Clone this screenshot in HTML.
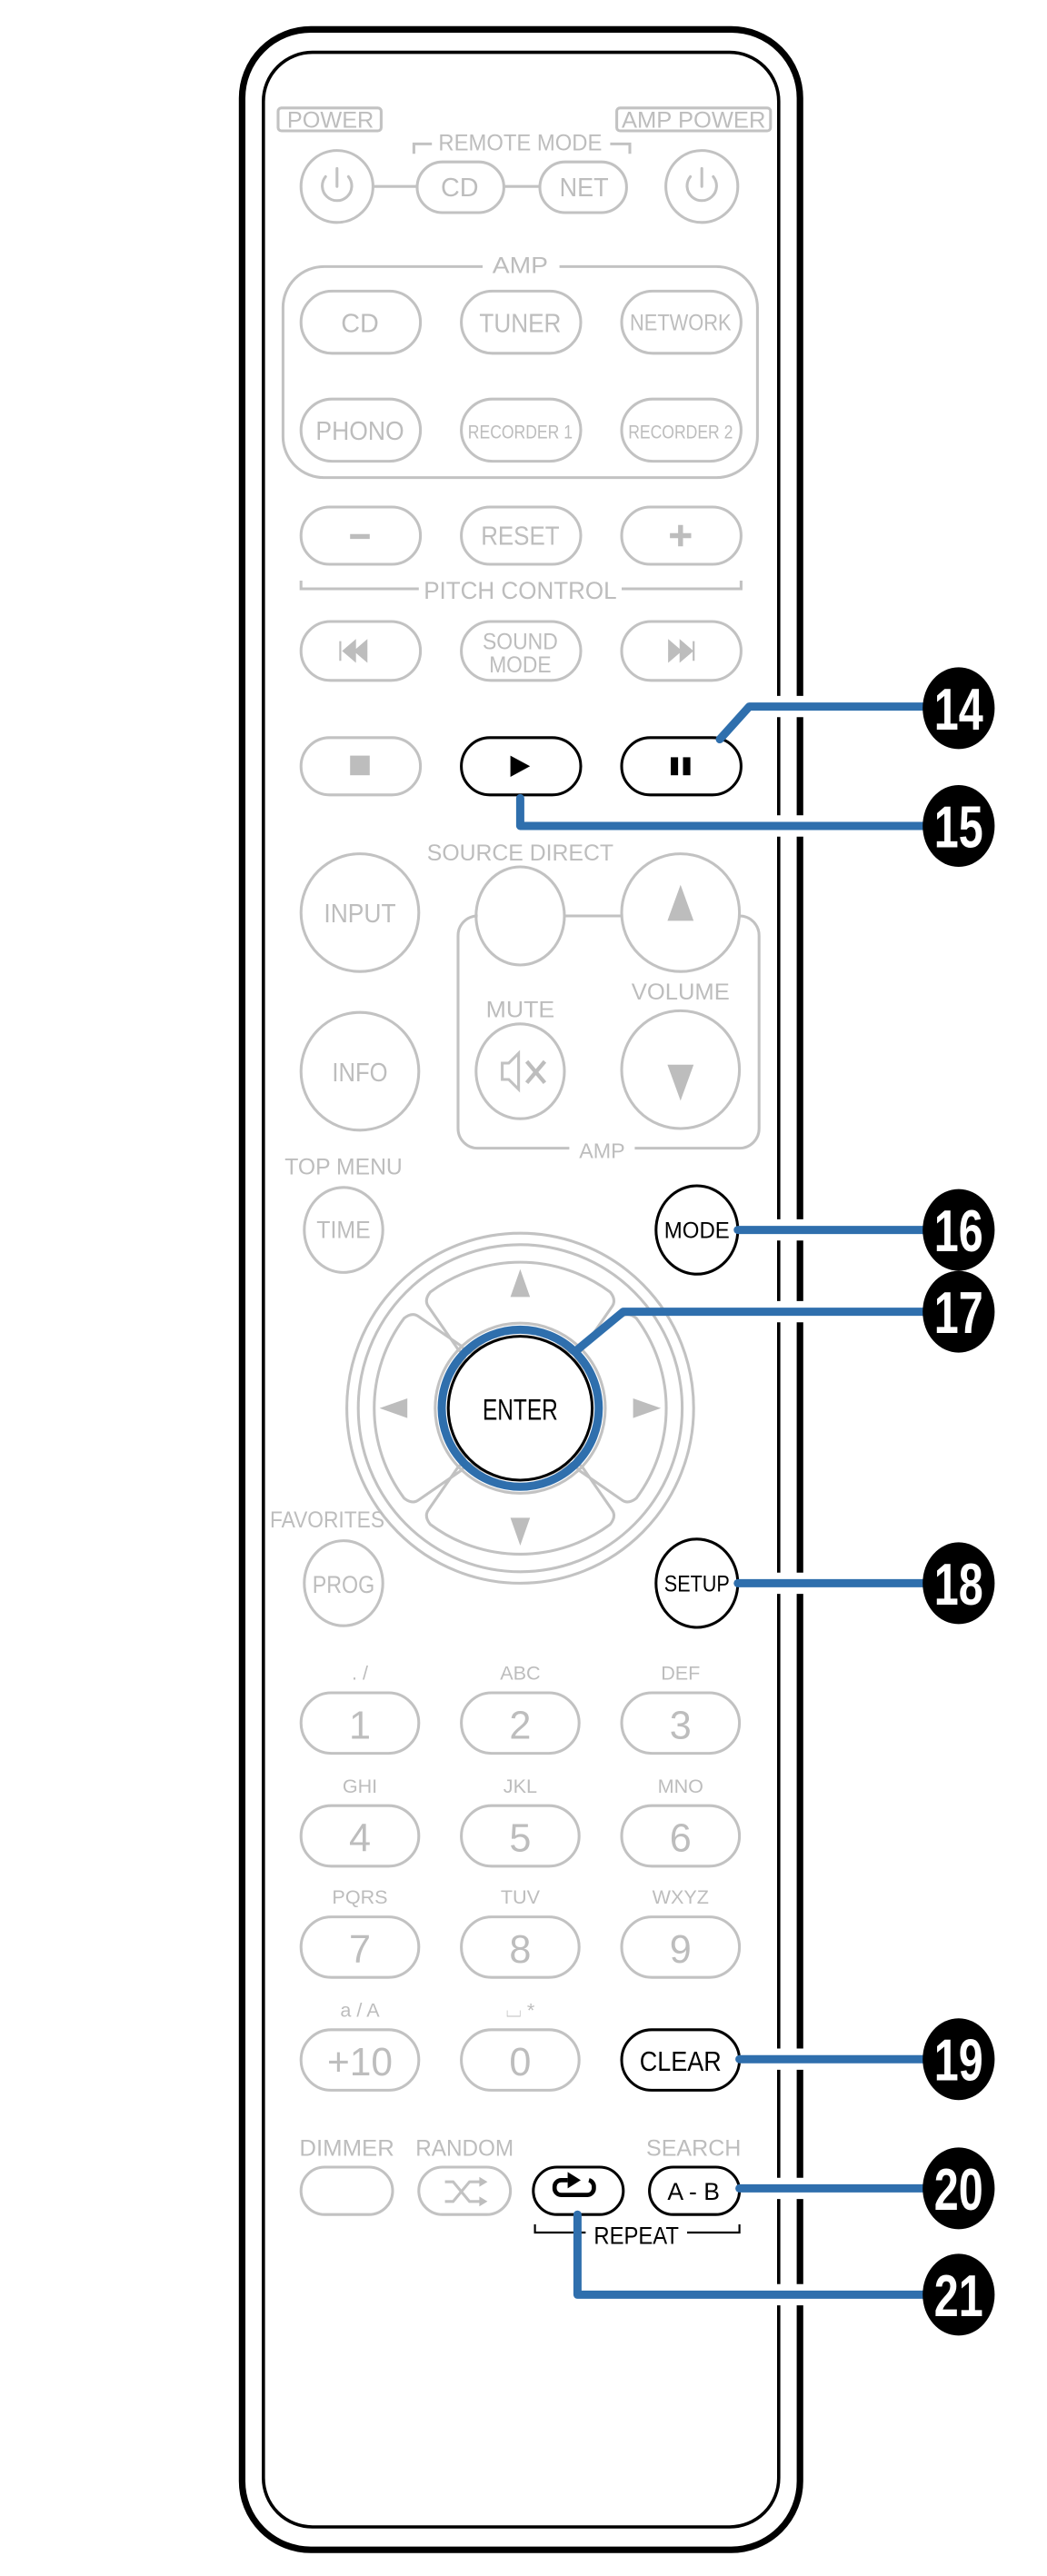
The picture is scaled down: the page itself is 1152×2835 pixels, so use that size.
<!DOCTYPE html>
<html><head><meta charset="utf-8"><style>
html,body{margin:0;padding:0;background:#fff}
svg{display:block}
.g{fill:none;stroke:#c2c2c2;stroke-width:1.7}
.k{fill:#fff;stroke:#000;stroke-width:1.7}
.t{fill:#bdbdbd;font-family:"Liberation Sans",sans-serif;text-anchor:middle}
.tb{fill:#000;font-family:"Liberation Sans",sans-serif;text-anchor:middle}
.n{fill:#fff;font-family:"Liberation Sans",sans-serif;text-anchor:middle;font-weight:bold;font-size:36px}
.bl{fill:none;stroke:#2f6fad;stroke-width:5;stroke-linejoin:round;stroke-linecap:round}
.wh{fill:none;stroke:#fff;stroke-width:13}
</style></head><body>
<svg width="1152" height="2835" viewBox="0 0 640 1575" xmlns="http://www.w3.org/2000/svg">
<rect x="148" y="18" width="341" height="1541" rx="42" fill="#fff" stroke="#000" stroke-width="4"/>
<rect x="161" y="32" width="315" height="1513" rx="30" fill="none" stroke="#000" stroke-width="2"/>

<rect x="170" y="66" width="63" height="14" rx="2" class="g"/>
<text x="202" y="78" class="t" font-size="14" textLength="53" lengthAdjust="spacingAndGlyphs">POWER</text>
<rect x="377" y="66" width="94" height="14" rx="2" class="g"/>
<text x="424" y="78" class="t" font-size="14" textLength="88" lengthAdjust="spacingAndGlyphs">AMP POWER</text>
<path d="M253,94 V88 H264 M373,88 H385 V94" class="g"/>
<text x="318" y="92" class="t" font-size="14" textLength="100" lengthAdjust="spacingAndGlyphs">REMOTE MODE</text>
<circle cx="206" cy="114" r="22" class="g"/>
<circle cx="429" cy="114" r="22" class="g"/>
<g class="g" stroke-width="3" stroke-linecap="round">
<path d="M199,108 A9,9 0 1 0 213,108 M206,103 V114"/>
<path d="M422,108 A9,9 0 1 0 436,108 M429,103 V114"/>
</g>
<line x1="228" y1="114" x2="255" y2="114" class="g"/>
<line x1="308" y1="114" x2="330" y2="114" class="g"/>
<rect x="255" y="99" width="53" height="31" rx="15.5" class="g"/>
<rect x="330" y="99" width="53" height="31" rx="15.5" class="g"/>
<text x="281" y="120" class="t" font-size="16">CD</text>
<text x="357" y="120" class="t" font-size="16" textLength="30" lengthAdjust="spacingAndGlyphs">NET</text>

<path d="M295,163 H198 A25,25 0 0 0 173,188 V267 A25,25 0 0 0 198,292 H438 A25,25 0 0 0 463,267 V188 A25,25 0 0 0 438,163 H342" class="g"/>
<text x="318" y="167" class="t" font-size="14" textLength="34" lengthAdjust="spacingAndGlyphs">AMP</text>
<rect x="184" y="178" width="73" height="38" rx="19" class="g"/>
<rect x="282" y="178" width="73" height="38" rx="19" class="g"/>
<rect x="380" y="178" width="73" height="38" rx="19" class="g"/>
<text x="220" y="203" class="t" font-size="16">CD</text>
<text x="318" y="203" class="t" font-size="16" textLength="50" lengthAdjust="spacingAndGlyphs">TUNER</text>
<text x="416" y="202" class="t" font-size="14" textLength="62" lengthAdjust="spacingAndGlyphs">NETWORK</text>
<rect x="184" y="244" width="73" height="38" rx="19" class="g"/>
<rect x="282" y="244" width="73" height="38" rx="19" class="g"/>
<rect x="380" y="244" width="73" height="38" rx="19" class="g"/>
<text x="220" y="269" class="t" font-size="16" textLength="54" lengthAdjust="spacingAndGlyphs">PHONO</text>
<text x="318" y="268" class="t" font-size="12" textLength="64" lengthAdjust="spacingAndGlyphs">RECORDER 1</text>
<text x="416" y="268" class="t" font-size="12" textLength="64" lengthAdjust="spacingAndGlyphs">RECORDER 2</text>

<rect x="184" y="310" width="73" height="35" rx="17.5" class="g"/>
<rect x="282" y="310" width="73" height="35" rx="17.5" class="g"/>
<rect x="380" y="310" width="73" height="35" rx="17.5" class="g"/>
<line x1="214" y1="328" x2="226" y2="328" stroke="#bdbdbd" stroke-width="3"/>
<text x="318" y="333" class="t" font-size="16" textLength="48" lengthAdjust="spacingAndGlyphs">RESET</text>
<path d="M416,321 V334 M409.5,327.5 H422.5" stroke="#bdbdbd" stroke-width="3"/>
<path d="M184,355 V360 H256 M380,360 H453 V355" class="g"/>
<text x="318" y="366" class="t" font-size="15" textLength="118" lengthAdjust="spacingAndGlyphs">PITCH CONTROL</text>

<rect x="184" y="380" width="73" height="36" rx="18" class="g"/>
<rect x="282" y="380" width="73" height="36" rx="18" class="g"/>
<rect x="380" y="380" width="73" height="36" rx="18" class="g"/>
<path d="M208,398 l0,-6 v12 M210,398 l7,-6 v12z M217,398 l7,-6 v12z" fill="#bdbdbd" stroke="#bdbdbd" stroke-width="1.2"/>
<path d="M409,392 v12 l7,-6z M416,392 v12 l7,-6z M424,392 v12" fill="#bdbdbd" stroke="#bdbdbd" stroke-width="1.2"/>
<text x="318" y="397" class="t" font-size="14" textLength="46" lengthAdjust="spacingAndGlyphs">SOUND</text>
<text x="318" y="411" class="t" font-size="14" textLength="38" lengthAdjust="spacingAndGlyphs">MODE</text>

<rect x="184" y="451" width="73" height="35" rx="17.5" class="g"/>
<rect x="214" y="462" width="12" height="12" fill="#bdbdbd"/>
<rect x="282" y="451" width="73" height="35" rx="17.5" class="k"/>
<path d="M312,462 v13 l12,-6.5z" fill="#000"/>
<rect x="380" y="451" width="73" height="35" rx="17.5" class="k"/>
<rect x="410" y="463" width="4.5" height="11" fill="#000"/>
<rect x="417.5" y="463" width="4.5" height="11" fill="#000"/>

<text x="318" y="526" class="t" font-size="14" textLength="114" lengthAdjust="spacingAndGlyphs">SOURCE DIRECT</text>
<path d="M292,560 A12,12 0 0 0 280,572 V690 A12,12 0 0 0 292,702 H348 M388,702 H452 A12,12 0 0 0 464,690 V572 A12,12 0 0 0 452,560" class="g"/>
<text x="368" y="708" class="t" font-size="13" textLength="28" lengthAdjust="spacingAndGlyphs">AMP</text>
<line x1="345" y1="560" x2="380" y2="560" class="g"/>
<circle cx="220" cy="558" r="36" class="g"/>
<text x="220" y="564" class="t" font-size="16" textLength="44" lengthAdjust="spacingAndGlyphs">INPUT</text>
<ellipse cx="318" cy="560" rx="27" ry="30" fill="#fff" class="g"/>
<circle cx="416" cy="558" r="36" fill="#fff" class="g"/>
<path d="M416,541 l-8,22 h16z" fill="#bdbdbd"/>
<circle cx="220" cy="655" r="36" class="g"/>
<text x="220" y="661" class="t" font-size="16" textLength="34" lengthAdjust="spacingAndGlyphs">INFO</text>
<text x="318" y="622" class="t" font-size="14" textLength="42" lengthAdjust="spacingAndGlyphs">MUTE</text>
<ellipse cx="318" cy="655" rx="27" ry="29" class="g"/>
<path d="M307,650 h4 l6,-6 v22 l-6,-6 h-4z" class="g" stroke-width="1.8"/>
<path d="M322,649 l11,13 M333,649 l-11,13" stroke="#bdbdbd" stroke-width="2.4"/>
<text x="416" y="611" class="t" font-size="14" textLength="60" lengthAdjust="spacingAndGlyphs">VOLUME</text>
<circle cx="416" cy="654" r="36" class="g"/>
<path d="M416,673 l-8,-22 h16z" fill="#bdbdbd"/>

<text x="210" y="718" class="t" font-size="14" textLength="72" lengthAdjust="spacingAndGlyphs">TOP MENU</text>
<ellipse cx="210" cy="752" rx="24" ry="26" class="g"/>
<text x="210" y="757" class="t" font-size="15" textLength="33" lengthAdjust="spacingAndGlyphs">TIME</text>

<ellipse cx="318" cy="861" rx="106" ry="107" class="g"/>
<ellipse cx="318" cy="861" rx="99" ry="100" class="g"/>
<g class="g" stroke-linejoin="round">
<path id="pad" d="M263,790 A92,92 0 0 1 373,790 Q377,795 374,799 L356,825 Q352,829 346,826 A50,50 0 0 0 290,826 Q284,829 280,825 L262,799 Q259,795 263,790 Z"/>
<use href="#pad" transform="rotate(90 318 861)"/>
<use href="#pad" transform="rotate(180 318 861)"/>
<use href="#pad" transform="rotate(270 318 861)"/>
</g>
<path d="M318,776 l-6,17 h12z M318,945 l-6,-17 h12z M232,861 l17,-6 v12z M404,861 l-17,-6 v12z" fill="#bdbdbd"/>
<circle cx="318" cy="861" r="52" class="g"/>
<circle cx="318" cy="861" r="48" fill="none" stroke="#2f6fad" stroke-width="5"/>
<circle cx="318" cy="861" r="44" class="k"/>
<text x="318" y="868" class="tb" font-size="18" textLength="46" lengthAdjust="spacingAndGlyphs">ENTER</text>

<text x="200" y="934" class="t" font-size="14" textLength="70" lengthAdjust="spacingAndGlyphs">FAVORITES</text>
<ellipse cx="210" cy="968" rx="24" ry="26" class="g"/>
<text x="210" y="974" class="t" font-size="15" textLength="38" lengthAdjust="spacingAndGlyphs">PROG</text>

<ellipse cx="426" cy="752" rx="25" ry="27" class="k"/>
<text x="426" y="757" class="tb" font-size="14" textLength="40" lengthAdjust="spacingAndGlyphs">MODE</text>
<ellipse cx="426" cy="968" rx="25" ry="27" class="k"/>
<text x="426" y="973" class="tb" font-size="14" textLength="40" lengthAdjust="spacingAndGlyphs">SETUP</text>

<g font-size="12">
<text x="220" y="1027" class="t">. /</text><text x="318" y="1027" class="t">ABC</text><text x="416" y="1027" class="t">DEF</text>
<text x="220" y="1096" class="t">GHI</text><text x="318" y="1096" class="t">JKL</text><text x="416" y="1096" class="t">MNO</text>
<text x="220" y="1164" class="t">PQRS</text><text x="318" y="1164" class="t">TUV</text><text x="416" y="1164" class="t">WXYZ</text>
<text x="220" y="1233" class="t">a / A</text><text x="318" y="1233" class="t">⌴ *</text>
</g>
<g class="g">
<rect x="184" y="1035" width="72" height="37" rx="18.5"/><rect x="282" y="1035" width="72" height="37" rx="18.5"/><rect x="380" y="1035" width="72" height="37" rx="18.5"/>
<rect x="184" y="1104" width="72" height="37" rx="18.5"/><rect x="282" y="1104" width="72" height="37" rx="18.5"/><rect x="380" y="1104" width="72" height="37" rx="18.5"/>
<rect x="184" y="1172" width="72" height="37" rx="18.5"/><rect x="282" y="1172" width="72" height="37" rx="18.5"/><rect x="380" y="1172" width="72" height="37" rx="18.5"/>
<rect x="184" y="1241" width="72" height="37" rx="18.5"/><rect x="282" y="1241" width="72" height="37" rx="18.5"/>
</g>
<g font-size="24">
<text x="220" y="1063" class="t">1</text><text x="318" y="1063" class="t">2</text><text x="416" y="1063" class="t">3</text>
<text x="220" y="1132" class="t">4</text><text x="318" y="1132" class="t">5</text><text x="416" y="1132" class="t">6</text>
<text x="220" y="1200" class="t">7</text><text x="318" y="1200" class="t">8</text><text x="416" y="1200" class="t">9</text>
<text x="220" y="1269" class="t" textLength="40" lengthAdjust="spacingAndGlyphs">+10</text><text x="318" y="1269" class="t">0</text>
</g>
<rect x="380" y="1241" width="72" height="37" rx="18.5" class="k"/>
<text x="416" y="1266" class="tb" font-size="17" textLength="50" lengthAdjust="spacingAndGlyphs">CLEAR</text>

<text x="212" y="1318" class="t" font-size="14" textLength="58" lengthAdjust="spacingAndGlyphs">DIMMER</text>
<text x="284" y="1318" class="t" font-size="14" textLength="60" lengthAdjust="spacingAndGlyphs">RANDOM</text>
<text x="424" y="1318" class="t" font-size="14" textLength="58" lengthAdjust="spacingAndGlyphs">SEARCH</text>
<rect x="184" y="1325" width="56" height="29" rx="14.5" class="g"/>
<rect x="256" y="1325" width="56" height="29" rx="14.5" class="g"/>
<path d="M272,1334 h5 l10,12 h7 M272,1346 h5 l10,-12 h7" class="g" stroke-width="2.5"/>
<path d="M293,1331 l5,3 l-5,3z M293,1343 l5,3 l-5,3z" fill="#bdbdbd"/>
<rect x="326" y="1325" width="55" height="29" rx="14.5" class="k"/>
<path d="M347,1333 h-4 a4,4 0 0 0 -4,4 v1 a4,4 0 0 0 4,4 h16 a4,4 0 0 0 4,-4 v-1 a4,4 0 0 0 -3,-4" fill="none" stroke="#000" stroke-width="2.6"/>
<path d="M347,1328 l8,5 l-8,5z" fill="#000"/>
<rect x="397" y="1325" width="55" height="29" rx="14.5" class="k"/>
<text x="424" y="1345" class="tb" font-size="15" textLength="32" lengthAdjust="spacingAndGlyphs">A - B</text>
<path d="M327,1360 V1365 H358 M420,1365 H452 V1360" fill="none" stroke="#000" stroke-width="1.2"/>
<text x="389" y="1372" class="tb" font-size="15" textLength="52" lengthAdjust="spacingAndGlyphs">REPEAT</text>

<g class="wh">
<path d="M470,432 H563 M470,505 H563 M470,752 H563 M470,802 H563 M470,968 H563 M470,1259 H563 M470,1338 H563 M470,1403 H563"/>
</g>
<g class="bl">
<path d="M440,452 L458,432 H565"/>
<path d="M318,488 V505 H565"/>
<path d="M451,752 H565"/>
<path d="M352,826 L381,802 H565"/>
<path d="M451,968 H565"/>
<path d="M452,1259 H565"/>
<path d="M452,1338 H565"/>
<path d="M353,1354 V1403 H565"/>
</g>

<g fill="#000">
<ellipse cx="586" cy="433" rx="22" ry="25"/>
<ellipse cx="586" cy="505" rx="22" ry="25"/>
<ellipse cx="586" cy="752" rx="22" ry="25"/>
<ellipse cx="586" cy="802" rx="22" ry="25"/>
<ellipse cx="586" cy="968" rx="22" ry="25"/>
<ellipse cx="586" cy="1259" rx="22" ry="25"/>
<ellipse cx="586" cy="1338" rx="22" ry="25"/>
<ellipse cx="586" cy="1403" rx="22" ry="25"/>
</g>
<g class="n">
<text x="586" y="446" textLength="30" lengthAdjust="spacingAndGlyphs">14</text>
<text x="586" y="518" textLength="30" lengthAdjust="spacingAndGlyphs">15</text>
<text x="586" y="765" textLength="30" lengthAdjust="spacingAndGlyphs">16</text>
<text x="586" y="815" textLength="30" lengthAdjust="spacingAndGlyphs">17</text>
<text x="586" y="981" textLength="30" lengthAdjust="spacingAndGlyphs">18</text>
<text x="586" y="1272" textLength="30" lengthAdjust="spacingAndGlyphs">19</text>
<text x="586" y="1351" textLength="30" lengthAdjust="spacingAndGlyphs">20</text>
<text x="586" y="1416" textLength="30" lengthAdjust="spacingAndGlyphs">21</text>
</g>
</svg>
</body></html>
